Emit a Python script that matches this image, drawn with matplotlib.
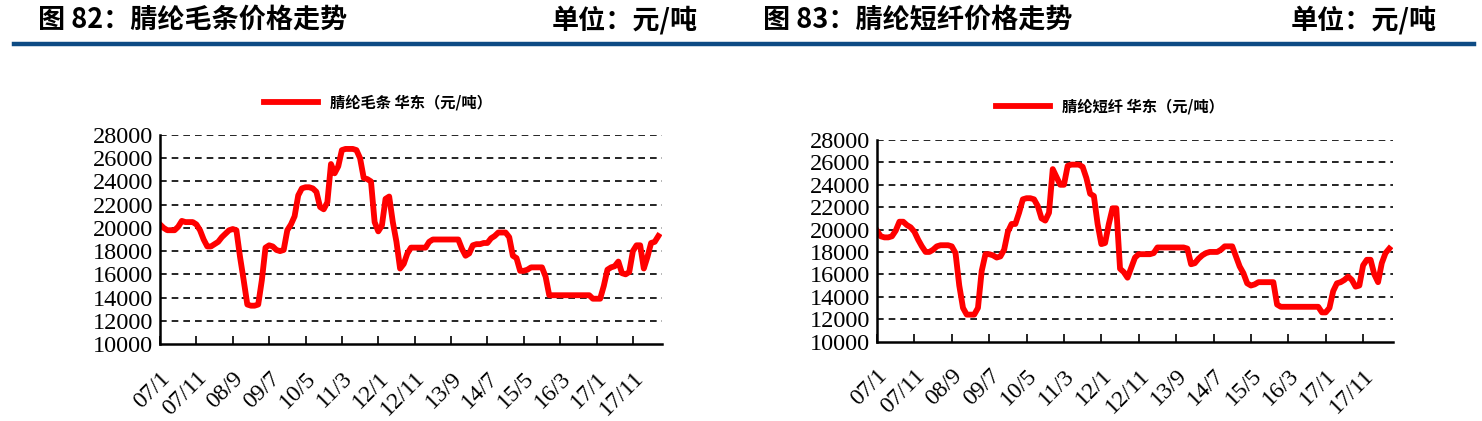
import numpy as np
import matplotlib.pyplot as plt
import matplotlib.transforms as mtransforms
from matplotlib.lines import Line2D

plt.rcParams['font.family'] = ['Noto Sans CJK SC', 'DejaVu Sans']

# monthly points, 2007/1 .. 2018/6
tick_labels = ['07/1', '07/11', '08/9', '09/7', '10/5', '11/3', '12/1',
               '12/11', '13/9', '14/7', '15/5', '16/3', '17/1', '17/11']

tops_price = [20300, 20000, 19800, 19800, 19800, 20100, 20600, 20500, 20500, 20500,
              20300, 19800, 19000, 18400, 18400, 18600, 18800, 19200, 19500, 19800,
              19900, 19800, 17500, 15500, 13400, 13300, 13300, 13400, 15500, 18300,
              18500, 18400, 18100, 18000, 18100, 19800, 20300, 21000, 22800, 23400,
              23500, 23500, 23400, 23100, 21800, 21600, 22200, 25500, 24700, 25300,
              26700, 26800, 26800, 26800, 26700, 26000, 24300, 24200, 24000, 20500,
              19700, 20200, 22500, 22700, 20500, 18800, 16500, 16900, 17800, 18300,
              18300, 18300, 18300, 18300, 18800, 19000, 19000, 19000, 19000, 19000,
              19000, 19000, 19000, 18200, 17600, 17800, 18500, 18600, 18600, 18700,
              18700, 19100, 19300, 19600, 19600, 19600, 19200, 17600, 17400, 16300,
              16300, 16400, 16600, 16600, 16600, 16600, 15800, 14200, 14200, 14200,
              14200, 14200, 14200, 14200, 14200, 14200, 14200, 14200, 14200, 13900,
              13900, 13900, 15000, 16400, 16600, 16700, 17100, 16100, 16000, 16200,
              18000, 18500, 18500, 16500, 17500, 18700, 18800, 19300]

staple_price = [19900, 19400, 19300, 19300, 19400, 19900, 20700, 20700, 20400, 20200,
                19800, 19100, 18500, 18000, 18000, 18200, 18500, 18600, 18600, 18600,
                18500, 17900, 15000, 13000, 12400, 12400, 12400, 13000, 16300, 17800,
                17800, 17700, 17500, 17600, 18200, 19800, 20500, 20500, 21500, 22700,
                22800, 22800, 22700, 22100, 21000, 20800, 21500, 25400, 24700, 24000,
                24000, 25700, 25800, 25800, 25800, 25600, 24600, 23200, 23000, 20500,
                18700, 18800, 20500, 21900, 21900, 16500, 16200, 15700, 16600, 17500,
                17800, 17800, 17800, 17800, 17900, 18400, 18400, 18400, 18400, 18400,
                18400, 18400, 18400, 18300, 16900, 17000, 17400, 17700, 17900, 18000,
                18000, 18000, 18200, 18500, 18500, 18500, 17600, 16700, 16100, 15200,
                15000, 15100, 15300, 15300, 15300, 15300, 15300, 13300, 13100, 13100,
                13100, 13100, 13100, 13100, 13100, 13100, 13100, 13100, 13100, 12600,
                12600, 13000, 14500, 15200, 15300, 15500, 15800, 15500, 14900, 15000,
                16800, 17300, 17300, 16000, 15300, 17000, 17900, 18300]

W, H = 1482, 421
fig = plt.figure(figsize=(W / 100, H / 100), dpi=100)

navy = '#0D4B84'
fig.add_artist(Line2D([14 / W, 1474 / W], [1 - 44 / H, 1 - 44 / H], color=navy, lw=3.2))

tfont = dict(fontsize=19.5, fontweight='bold', va='center', color='black')
fig.text(38 / W, 1 - 20 / H, '图 82：腈纶毛条价格走势', ha='left', **tfont)
fig.text(698 / W, 1 - 20 / H, '单位：元/吨', ha='right', **tfont)
fig.text(763 / W, 1 - 20 / H, '图 83：腈纶短纤价格走势', ha='left', **tfont)
fig.text(1437 / W, 1 - 20 / H, '单位：元/吨', ha='right', **tfont)


def panel(rect, values, label, legend_xy):
    ax = fig.add_axes(rect)
    x = np.arange(len(values))
    ax.plot(x, values, color='#FF0000', lw=4.2, label=label, solid_joinstyle='round')
    ax.set_xlim(0, 138)
    ax.set_ylim(10000, 28000)
    ax.set_yticks(np.arange(10000, 28001, 2000))
    ax.set_xticks(np.arange(0, 131, 10))
    ax.set_xticklabels(tick_labels, rotation=45, ha='right', va='top',
                       rotation_mode='anchor', family='Liberation Serif', fontsize=17)
    shift = mtransforms.ScaledTranslation(5 / 100, 0, fig.dpi_scale_trans)
    for t in ax.get_xticklabels():
        t.set_transform(t.get_transform() + shift)
    for t in ax.get_yticklabels():
        t.set_family('Liberation Serif')
        t.set_fontsize(17.5)
    for v in range(12000, 28001, 2000):
        ax.axhline(v, color='black', lw=1.2, ls=(0, (4, 3)), zorder=0)
    for s in ['top', 'right']:
        ax.spines[s].set_visible(False)
    for s in ['left', 'bottom']:
        ax.spines[s].set_linewidth(1.8)
    ax.tick_params(axis='y', length=0, pad=5)
    ax.tick_params(axis='x', direction='in', length=6, width=1.2, pad=17)
    fig.legend(loc='center', bbox_to_anchor=legend_xy, frameon=False,
               handles=[Line2D([], [], color='#FF0000', lw=4.2)], labels=[label],
               handlelength=3.5, prop={'size': 11, 'weight': 'bold'})
    return ax


panel([160 / W, 1 - 344 / H, 502 / W, 209 / H], tops_price,
      '腈纶毛条 华东（元/吨）', (378 / W, 1 - 102 / H))
panel([877 / W, 1 - 341.5 / H, 516 / W, 201.5 / H], staple_price,
      '腈纶短纤 华东（元/吨）', (1110 / W, 1 - 106 / H))

fig.savefig('out.png', dpi=100)
